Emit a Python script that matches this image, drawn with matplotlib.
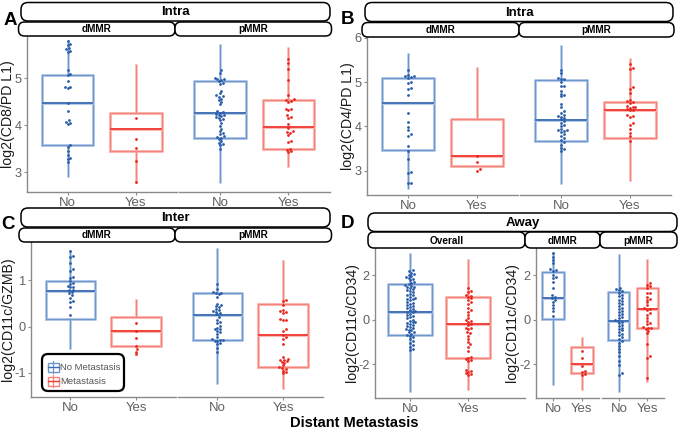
import numpy as np
import matplotlib
matplotlib.use("Agg")
import matplotlib.pyplot as plt
from matplotlib.patches import FancyBboxPatch, Rectangle
from matplotlib.lines import Line2D

plt.rcParams['font.family'] = ['Liberation Sans', 'DejaVu Sans']

# ---------------- data ----------------
groups = ["No", "Yes"]
# box statistics: [lower whisker, Q1, median, Q3, upper whisker]
A_dMMR_box_no = [2.92, 3.58, 4.48, 5.08, 5.79]
A_dMMR_box_yes = [2.79, 3.45, 3.93, 4.26, 5.28]
A_pMMR_box_no = [2.80, 3.74, 4.27, 4.94, 5.70]
A_pMMR_box_yes = [3.13, 3.49, 3.96, 4.54, 5.64]
B_dMMR_box_no = [2.61, 3.46, 4.52, 5.10, 5.63]
B_dMMR_box_yes = [3.10, 3.10, 3.33, 4.16, 5.32]
B_pMMR_box_no = [2.72, 3.68, 4.15, 5.04, 5.81]
B_pMMR_box_yes = [2.78, 3.74, 4.37, 4.55, 5.53]
C_dMMR_box_no = [-0.46, 0.17, 0.77, 0.98, 1.64]
C_dMMR_box_yes = [-0.42, -0.42, -0.10, 0.20, 0.57]
C_pMMR_box_no = [-1.21, -0.29, 0.26, 0.72, 1.67]
C_pMMR_box_yes = [-1.33, -0.88, -0.18, 0.50, 1.42]
D_all_box_no = [-3.19, -0.68, 0.36, 1.61, 2.94]
D_all_box_yes = [-3.10, -1.73, -0.20, 1.01, 2.68]
D_dMMR_box_no = [-2.89, 0.04, 0.96, 2.13, 2.98]
D_dMMR_box_yes = [-3.10, -2.40, -1.98, -1.21, -0.80]
D_pMMR_box_no = [-3.19, -0.91, -0.05, 1.26, 2.91]
D_pMMR_box_yes = [-2.74, -0.38, 0.48, 1.41, 2.68]

A_dMMR_pts_no = [5.79, 5.74, 5.71, 5.64, 5.62, 5.58, 5.57, 5.18, 5.09, 5.07, 4.94, 4.81, 4.81,
                 4.80, 4.48, 4.30, 4.11, 4.07, 4.04, 4.02, 3.58, 3.54, 3.45, 3.36, 3.31, 3.28, 3.22]
A_dMMR_pts_yes = [4.16, 3.70, 3.52, 3.24, 2.79]
A_pMMR_pts_no = [5.17, 5.12, 5.01, 4.99, 4.98, 4.97, 4.94, 4.91, 4.89, 4.73, 4.68, 4.64, 4.62,
                 4.61, 4.57, 4.53, 4.50, 4.45, 4.30, 4.28, 4.27, 4.25, 4.23, 4.22, 4.20, 4.18,
                 4.16, 4.14, 4.11, 4.04, 3.99, 3.93, 3.88, 3.84, 3.81, 3.77, 3.76, 3.74, 3.71,
                 3.67, 3.63, 3.61, 3.58, 3.50]
A_pMMR_pts_yes = [5.42, 5.33, 5.19, 4.96, 4.64, 4.55, 4.53, 4.52, 4.50, 4.35, 4.34, 4.32, 4.21,
                  4.18, 4.16, 4.02, 3.95, 3.88, 3.86, 3.84, 3.79, 3.67, 3.65, 3.50, 3.48, 3.45, 3.43]
B_dMMR_pts_no = [5.27, 5.17, 5.15, 5.14, 5.12, 5.10, 5.00, 4.98, 4.87, 4.85, 4.72, 4.31, 4.10,
                 3.99, 3.91, 3.82, 3.79, 3.55, 3.44, 3.27, 2.96, 2.95, 2.71, 2.71]
B_dMMR_pts_yes = [3.33, 3.19, 3.03, 2.99]
B_pMMR_pts_no = [5.27, 5.20, 5.10, 5.08, 5.06, 5.01, 4.92, 4.91, 4.80, 4.74, 4.70, 4.68, 4.50,
                 4.43, 4.34, 4.31, 4.25, 4.23, 4.22, 4.19, 4.16, 4.12, 4.07, 4.04, 4.00, 3.94,
                 3.91, 3.91, 3.89, 3.87, 3.82, 3.78, 3.74, 3.70, 3.64, 3.59, 3.51, 3.48, 3.44]
B_pMMR_pts_yes = [5.40, 5.31, 5.29, 4.89, 4.84, 4.76, 4.59, 4.57, 4.55, 4.53, 4.46, 4.44, 4.43,
                  4.42, 4.40, 4.38, 4.36, 4.26, 4.23, 4.22, 4.07, 4.04, 3.94, 3.85, 3.79, 3.67]
C_dMMR_pts_no = [1.64, 1.52, 1.51, 1.38, 1.24, 1.21, 1.08, 1.06, 0.99, 0.95, 0.92, 0.88, 0.86,
                 0.85, 0.80, 0.79, 0.75, 0.72, 0.68, 0.63, 0.56, 0.54, 0.43, 0.26]
C_dMMR_pts_yes = [0.08, -0.10, -0.24, -0.42, -0.49, -0.54, -0.60]
C_pMMR_pts_no = [0.92, 0.82, 0.75, 0.73, 0.72, 0.70, 0.65, 0.50, 0.46, 0.45, 0.42, 0.39, 0.36,
                 0.34, 0.32, 0.30, 0.27, 0.20, 0.15, 0.10, 0.07, 0.01, -0.02, -0.05, -0.06,
                 -0.09, -0.11, -0.15, -0.23, -0.26, -0.28, -0.29, -0.30, -0.31, -0.35, -0.38,
                 -0.47, -0.54]
C_pMMR_pts_yes = [0.57, 0.55, 0.46, 0.36, 0.33, 0.32, 0.30, 0.16, 0.15, 0.14, -0.06, -0.09,
                  -0.18, -0.22, -0.26, -0.38, -0.65, -0.69, -0.71, -0.72, -0.74, -0.76, -0.78,
                  -0.83, -0.88, -0.90, -0.92, -0.95, -0.98, -1.01]
D_all_pts_no = [2.23, 2.18, 2.12, 2.07, 2.02, 1.98, 1.93, 1.88, 1.84, 1.77, 1.71, 1.66, 1.62,
                1.55, 1.52, 1.49, 1.46, 1.41, 1.38, 1.33, 1.29, 1.24, 1.17, 1.12, 1.09, 1.02,
                0.96, 0.93, 0.91, 0.87, 0.81, 0.74, 0.71, 0.66, 0.62, 0.58, 0.52, 0.47, 0.43,
                0.38, 0.35, 0.33, 0.27, 0.21, 0.16, 0.12, 0.06, 0.01, -0.04, -0.08, -0.11,
                -0.14, -0.19, -0.23, -0.26, -0.31, -0.37, -0.42, -0.45, -0.48, -0.53, -0.57,
                -0.63, -0.69, -0.74, -0.79, -0.86, -0.95, -1.04, -1.13, -1.21, -1.29, -1.36]
D_all_pts_yes = [1.41, 1.30, 1.23, 1.10, 1.08, 1.04, 0.96, 0.90, 0.78, 0.69, 0.54, 0.44, 0.35,
                 0.22, 0.10, 0.00, -0.05, -0.10, -0.20, -0.25, -0.35, -0.38, -0.40, -0.56,
                 -0.60, -0.71, -0.86, -0.98, -1.10, -1.21, -1.40, -1.65, -1.70, -1.76, -1.80,
                 -1.85, -2.25, -2.30, -2.33, -2.40, -2.45, -2.48]
D_dMMR_pts_no = [2.98, 2.83, 2.68, 2.53, 2.28, 2.23, 2.19, 2.01, 1.93, 1.86, 1.71, 1.41, 1.11,
                 1.04, 0.96, 0.89, 0.78, 0.66, 0.52, 0.39, 0.18]
D_dMMR_pts_yes = [-1.40, -1.73, -2.06, -2.30, -2.36, -2.45, -2.48]
D_pMMR_pts_no = [1.44, 1.38, 1.33, 1.27, 1.20, 1.13, 1.05, 0.98, 0.90, 0.84, 0.77, 0.70, 0.61,
                 0.55, 0.48, 0.41, 0.34, 0.28, 0.20, 0.13, 0.06, 0.00, -0.05, -0.10, -0.16,
                 -0.22, -0.29, -0.35, -0.41, -0.48, -0.55, -0.62, -0.70, -0.78, -0.86, -0.95,
                 -1.05, -1.18, -1.30, -1.45, -1.62, -1.85, -2.05, -2.40, -2.48]
D_pMMR_pts_yes = [1.66, 1.56, 1.50, 1.44, 1.20, 1.19, 1.04, 0.93, 0.90, 0.78, 0.66, 0.52, 0.50,
                  0.44, 0.30, 0.22, 0.07, -0.05, -0.16, -0.20, -0.31, -0.35, -0.38, -0.40,
                  -0.50, -0.61, -1.10, -1.61, -1.70, -2.60]

# ---------------- style ----------------
BLUE = dict(pt='#2a5da8', light='#b7cce8', mid='#6f96cc', med='#3d6db4')
RED = dict(pt='#e8271f', light='#fbbab5', mid='#f3847d', med='#ee3b33')
AXC = '#8a8a8a'
TICKC = '#616161'

W, H = 680, 430
fig = plt.figure(figsize=(6.8, 4.3), dpi=100)


def add_ax(x0, y0, x1, y1):
    return fig.add_axes([x0 / W, 1 - y1 / H, (x1 - x0) / W, (y1 - y0) / H])


def draw_box(ax, pos, stats, c, width=0.75):
    st = dict(whislo=stats[0], q1=stats[1], med=stats[2], q3=stats[3], whishi=stats[4], fliers=[])
    ax.bxp([st], positions=[pos], widths=width, showcaps=False, showfliers=False,
           manage_ticks=False,
           boxprops=dict(color=c['light'], lw=2.2),
           whiskerprops=dict(color=c['light'], lw=1.8),
           medianprops=dict(color=c['light'], lw=2.2))
    ax.bxp([st], positions=[pos], widths=width, showcaps=False, showfliers=False,
           manage_ticks=False,
           boxprops=dict(color=c['mid'], lw=0.8),
           whiskerprops=dict(color=c['mid'], lw=0.9),
           medianprops=dict(color=c['med'], lw=1.3))


def swarm(ax, pos, vals, color, d=2.7):
    vals = np.asarray(vals, float)
    t = ax.transData
    ypx = t.transform(np.column_stack([np.full(len(vals), pos), vals]))[:, 1]
    x0px = t.transform([[pos, 0]])[0, 0]
    xunit = t.transform([[pos + 1, 0]])[0, 0] - x0px
    placed = []
    xs = np.zeros(len(vals))
    for i in np.argsort(ypx):
        y = ypx[i]
        step = 0
        chosen = None
        while chosen is None:
            cands = [0.0] if step == 0 else [step * d * 0.5, -step * d * 0.5]
            for c in cands:
                if all((c - px) ** 2 + (y - py) ** 2 >= d * d * 0.95 for px, py in placed):
                    chosen = c
                    break
            step += 1
        placed.append((chosen, y))
        xs[i] = pos + chosen / xunit
    ax.plot(xs, vals, 'o', ms=2.0, mew=0, color=color, zorder=5)


def facet(rect, ylim, yticks, box_no, box_yes, pts_no, pts_yes, first, xlim=(-0.6, 1.6),
          ylabel=None, ylabel_x=None):
    ax = add_ax(*rect)
    ax.set_xlim(*xlim)
    ax.set_ylim(*ylim)
    ax.patch.set_alpha(0)
    for s in ['top', 'right']:
        ax.spines[s].set_visible(False)
    ax.spines['bottom'].set_color(AXC)
    ax.spines['bottom'].set_linewidth(1.0)
    ax.spines['left'].set_color(AXC)
    ax.spines['left'].set_linewidth(1.0)
    ax.spines['left'].set_visible(first)
    ax.set_xticks([0, 1])
    ax.set_xticklabels(groups)
    ax.tick_params(axis='x', length=2.2, width=0.8, color=AXC, pad=1.5,
                   labelsize=9.5, labelcolor=TICKC)
    if first:
        ax.set_yticks(yticks)
        ax.set_yticklabels([str(v) for v in yticks])
        ax.tick_params(axis='y', length=2.2, width=0.8, color=AXC, pad=1.5,
                       labelsize=9.2, labelcolor=TICKC)
    else:
        ax.set_yticks([])
    draw_box(ax, 0, box_no, BLUE)
    draw_box(ax, 1, box_yes, RED)
    swarm(ax, 0, pts_no, BLUE['pt'])
    swarm(ax, 1, pts_yes, RED['pt'])
    if ylabel:
        fig.text(ylabel_x / W, 1 - (rect[1] + rect[3]) / 2 / H, ylabel, rotation=90,
                 ha='center', va='center', fontsize=10.2, color='#1a1a1a')
    return ax


# Panel A
facet((26.5, 37, 177, 192), (2.58, 5.88), [3, 4, 5], A_dMMR_box_no, A_dMMR_box_yes,
      A_dMMR_pts_no, A_dMMR_pts_yes, True, ylabel="log2(CD8/PD L1)", ylabel_x=8.5)
facet((179, 37, 329.5, 192), (2.58, 5.88), [3, 4, 5], A_pMMR_box_no, A_pMMR_box_yes,
      A_pMMR_pts_no, A_pMMR_pts_yes, False)
# Panel B
facet((367, 37, 518, 195), (2.45, 6.02), [3, 4, 5, 6], B_dMMR_box_no, B_dMMR_box_yes,
      B_dMMR_pts_no, B_dMMR_pts_yes, True, ylabel="log2(CD4/PD L1)", ylabel_x=348)
facet((520, 37, 671, 195), (2.45, 6.02), [3, 4, 5, 6], B_pMMR_box_no, B_pMMR_box_yes,
      B_pMMR_pts_no, B_pMMR_pts_yes, False)
# Panel C
facet((31, 242, 175.5, 397), (-1.52, 1.83), [-1, 0, 1], C_dMMR_box_no, C_dMMR_box_yes,
      C_dMMR_pts_no, C_dMMR_pts_yes, True, ylabel="log2(CD11c/GZMB)", ylabel_x=8.5)
facet((178, 242, 322.5, 397), (-1.52, 1.83), [-1, 0, 1], C_pMMR_box_no, C_pMMR_box_yes,
      C_pMMR_pts_no, C_pMMR_pts_yes, False)
# Panel D
facet((375, 248, 525, 398), (-3.51, 3.22), [-2, 0, 2], D_all_box_no, D_all_box_yes,
      D_all_pts_no, D_all_pts_yes, True, xlim=(-0.6, 1.97),
      ylabel="log2(CD11c/CD34)", ylabel_x=352)
facet((536, 248, 599, 398), (-3.51, 3.22), [-2, 0, 2], D_dMMR_box_no, D_dMMR_box_yes,
      D_dMMR_pts_no, D_dMMR_pts_yes, True, ylabel="log2(CD11c/CD34)", ylabel_x=512.5)
facet((602, 248, 664, 398), (-3.51, 3.22), [-2, 0, 2], D_pMMR_box_no, D_pMMR_box_yes,
      D_pMMR_pts_no, D_pMMR_pts_yes, False)

# ---------------- overlay: strips, letters, legend ----------------
ov = fig.add_axes([0, 0, 1, 1], zorder=10)
ov.set_xlim(0, W)
ov.set_ylim(H, 0)
ov.axis('off')
ov.patch.set_alpha(0)


def strip(x0, y0, x1, y1, text, size, r=6, weight='bold'):
    p = FancyBboxPatch((x0, y0), x1 - x0, y1 - y0,
                       boxstyle=f"round,pad=0,rounding_size={r}",
                       fc='white', ec='black', lw=1.1)
    ov.add_patch(p)
    ov.text((x0 + x1) / 2, (y0 + y1) / 2 + 0.5, text, ha='center', va='center',
            fontsize=size, fontweight=weight, color='black')


SUB = 7.2
# A
strip(21, 2.5, 330, 21, "Intra", 9.5, r=7)
strip(18.5, 22, 175, 36, "dMMR", SUB)
strip(175, 22, 331.5, 36, "pMMR", SUB)
# B
strip(365, 2.5, 673, 21.5, "Intra", 9.5, r=7)
strip(362, 22.5, 519, 37, "dMMR", SUB)
strip(519, 22.5, 674, 37, "pMMR", SUB)
# C
strip(21, 208, 330, 227, "Inter", 9.5, r=7)
strip(19, 228, 175, 242, "dMMR", SUB)
strip(175, 228, 331.5, 242, "pMMR", SUB)
# D
strip(368, 213, 677, 231.5, "Away", 9.5, r=7)
strip(368, 232, 525, 248, "Overall", SUB)
strip(525, 232, 600, 248, "dMMR", SUB)
strip(600, 232, 677, 248, "pMMR", SUB)

for (x, y, t) in [(10, 20.5, 'A'), (347.5, 20, 'B'), (8.5, 224.5, 'C'), (348, 223, 'D')]:
    ov.text(x, y, t, ha='center', va='center', fontsize=13.5, fontweight='bold', color='black')

ov.text(354, 423, "Distant Metastasis", ha='center', va='center', fontsize=10.5,
        fontweight='bold', color='black')

# legend
ov.add_patch(FancyBboxPatch((42, 354), 82, 37, boxstyle="round,pad=0,rounding_size=6",
                            fc='white', ec='black', lw=1.6))
legend_labels = ["No Metastasis", "Metastasis"]
for lab, c, yc in [(legend_labels[0], BLUE, 367), (legend_labels[1], RED, 381)]:
    ov.add_line(Line2D([53, 53], [yc - 6, yc + 6], color=c['mid'], lw=0.9))
    ov.add_patch(Rectangle((47.5, yc - 4.5), 11, 9, fc='white', ec=c['mid'], lw=1.0))
    ov.add_line(Line2D([47.5, 58.5], [yc, yc], color=c['med'], lw=1.0))
    ov.text(60, yc + 0.3, lab, ha='left', va='center', fontsize=6.8, color='#555555')

fig.savefig("out.png", dpi=100)
